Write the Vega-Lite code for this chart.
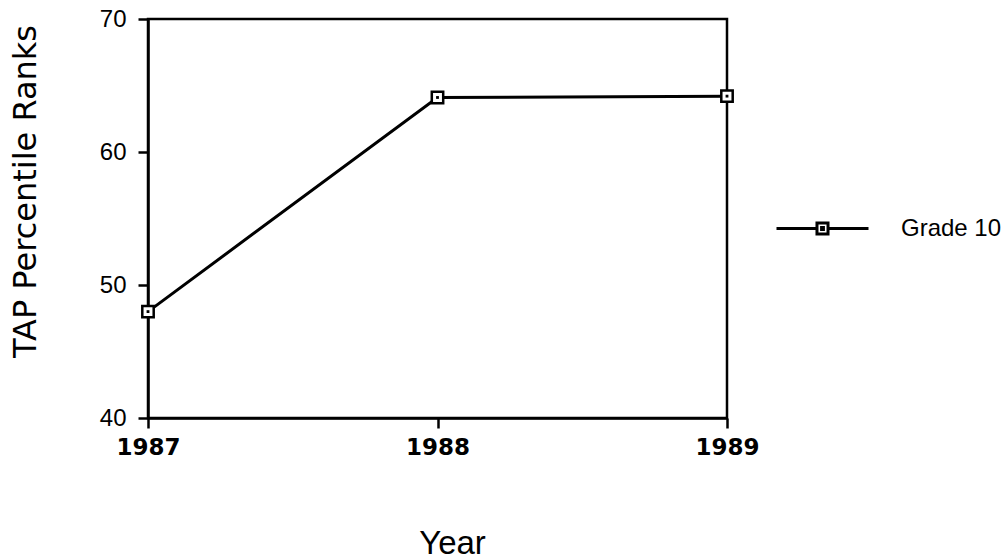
{
  "$schema": "https://vega.github.io/schema/vega-lite/v6.json",
  "autosize": "none",
  "width": 579,
  "height": 399,
  "padding": {"left": 148, "top": 19, "right": 279, "bottom": 142},
  "background": "white",
  "config": {
    "view": {"stroke": "black", "strokeWidth": 2.5},
    "font": "Liberation Sans"
  },
  "data": {
    "values": [
      {"year": "1987", "rank": 48, "series": "Grade 10"},
      {"year": "1988", "rank": 64.1, "series": "Grade 10"},
      {"year": "1989", "rank": 64.2, "series": "Grade 10"}
    ]
  },
  "encoding": {
    "x": {
      "field": "year",
      "type": "ordinal",
      "scale": {"type": "point", "padding": 0},
      "axis": {
        "title": "Year",
        "labelAngle": 0,
        "labelOverlap": false,
        "grid": false,
        "domainColor": "black",
        "domainWidth": 2.5,
        "tickColor": "black",
        "tickWidth": 2.5,
        "tickSize": 10,
        "labelFont": "DejaVu Sans",
        "labelFontWeight": "bold",
        "labelFontSize": 23,
        "labelColor": "black",
        "labelPadding": 8,
        "labelFlush": false,
        "titleFont": "Liberation Sans",
        "titleFontSize": 33,
        "titleFontWeight": "normal",
        "titleColor": "black",
        "titleX": 304,
        "titleY": 135,
        "titleBaseline": "alphabetic"
      }
    },
    "y": {
      "field": "rank",
      "type": "quantitative",
      "scale": {"domain": [40, 70], "nice": false, "zero": false},
      "axis": {
        "title": "TAP Percentile Ranks",
        "values": [40, 50, 60, 70],
        "labelOverlap": false,
        "grid": false,
        "domainColor": "black",
        "domainWidth": 2.5,
        "tickColor": "black",
        "tickWidth": 2.5,
        "tickSize": 10,
        "labelFont": "Liberation Sans",
        "labelFontSize": 24,
        "labelColor": "black",
        "labelPadding": 12,
        "labelFlush": false,
        "titleFont": "DejaVu Sans",
        "titleFontSize": 32,
        "titleFontWeight": "normal",
        "titleColor": "black",
        "titleX": -113,
        "titleY": 172,
        "titleBaseline": "alphabetic",
        "titleAngle": -90,
        "titleAlign": "center"
      }
    }
  },
  "layer": [
    {
      "mark": {"type": "line", "strokeWidth": 3},
      "encoding": {
        "color": {
          "field": "series",
          "type": "nominal",
          "scale": {"range": ["black"]},
          "legend": {
            "title": null,
            "orient": "none",
            "legendX": 627,
            "legendY": 162,
            "padding": 0,
            "symbolType": "M-1,0H-0.12M0.12,0H1M-0.12,-0.12H0.12V0.12H-0.12ZM-0.02,-0.02H0.02V0.02H-0.02Z",
            "symbolSize": 8464,
            "symbolStrokeWidth": 3,
            "symbolStrokeColor": "black",
            "symbolFillColor": "white",
            "labelFont": "Liberation Sans",
            "labelFontSize": 24,
            "labelColor": "black",
            "labelOffset": 31
          }
        }
      }
    },
    {
      "mark": {"type": "point", "shape": "square", "size": 130, "filled": true, "fill": "white", "stroke": "black", "strokeWidth": 2.5, "opacity": 1}
    },
    {
      "mark": {"type": "point", "shape": "square", "size": 8, "filled": true, "color": "black", "opacity": 1}
    }
  ]
}
